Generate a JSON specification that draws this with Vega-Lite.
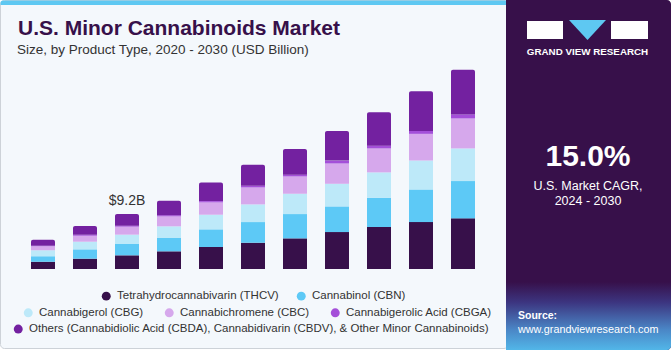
{
  "$schema": "https://vega.github.io/schema/vega-lite/v6.json",
  "width": 462,
  "height": 209,
  "autosize": {"type": "none"},
  "padding": {"left": 22, "top": 60, "right": 187, "bottom": 81},
  "background": "#ffffff",
  "config": {
    "view": {"stroke": null},
    "font": "Liberation Sans",
    "axisX": {"title": null, "labelAngle": 0, "ticks": false, "tickSize": 0, "domain": false, "grid": false, "labelFontSize": 12.5, "labelColor": "#333333", "labelPadding": 3, "labelFont": "Liberation Sans"},
    "legend": {"symbolType": "circle", "symbolSize": 80, "symbolStrokeWidth": 0, "labelFontSize": 11.5, "labelColor": "#333333", "labelFont": "Liberation Sans", "labelOffset": 5, "labelLimit": 1000, "rowPadding": 0}
  },
  "layer": [
    {
      "data": {"values": [{}]},
      "layer": [
        {"mark": {"type": "rect", "x": -21.5, "y": -59.5, "x2": 486, "y2": 288.5, "fill": "#f4f8fc", "stroke": "#cdd2d8", "strokeWidth": 1, "cornerRadius": 4}, "encoding": {}},
        {"mark": {"type": "rect", "x": -21.5, "y": -59.5, "x2": 486, "y2": -55, "fill": "#5ec8f2", "cornerRadiusTopLeft": 3}, "encoding": {}},
        {"mark": {"type": "rect", "x": 484, "y": -60, "x2": 649, "y2": 290, "fill": "#37104a", "cornerRadiusTopRight": 4, "cornerRadiusBottomRight": 4}, "encoding": {}},
        {"mark": {"type": "rect", "x": 484, "y": 222, "x2": 649, "y2": 290, "cornerRadiusBottomRight": 4, "fill": {"gradient": "linear", "x1": 0, "y1": 0, "x2": 0, "y2": 1, "stops": [{"offset": 0, "color": "#37104a"}, {"offset": 0.3, "color": "#3c3580"}, {"offset": 0.7, "color": "#4a86c6"}, {"offset": 1, "color": "#52b6e8"}]}}, "encoding": {}},
        {"mark": {"type": "rect", "x": 505, "y": -39, "x2": 541, "y2": -21, "fill": "#ffffff"}, "encoding": {}},
        {"mark": {"type": "rule", "x": 521, "y": -28, "x2": 541, "y2": -28, "stroke": "#37104a", "strokeWidth": 1.5}, "encoding": {}},
        {"mark": {"type": "point", "shape": "M-1,-0.54L1,-0.54L0,0.54Z", "size": 1369, "filled": true, "opacity": 1, "fill": "#5ec8f2", "strokeWidth": 0, "x": 565.5, "y": -30}, "encoding": {}},
        {"mark": {"type": "rect", "x": 589, "y": -39, "x2": 626, "y2": -21, "fill": "#ffffff"}, "encoding": {}},
        {"mark": {"type": "rule", "x": 611, "y": -31, "x2": 626, "y2": -25, "stroke": "#37104a", "strokeWidth": 1.2}, "encoding": {}},
        {"mark": {"type": "text", "text": "U.S. Minor Cannabinoids Market", "x": -4, "y": -25, "align": "left", "baseline": "alphabetic", "fontSize": 21, "fontWeight": "bold", "color": "#37104a"}, "encoding": {}},
        {"mark": {"type": "text", "text": "Size, by Product Type, 2020 - 2030 (USD Billion)", "x": -5, "y": -6, "align": "left", "baseline": "alphabetic", "fontSize": 13.5, "color": "#333333"}, "encoding": {}}
      ]
    },
    {
      "data": {"values": [
        {"year": "2020", "type": "Tetrahydrocannabivarin (THCV)", "value": 1.23},
        {"year": "2020", "type": "Cannabinol (CBN)", "value": 0.89},
        {"year": "2020", "type": "Cannabigerol (CBG)", "value": 1.0},
        {"year": "2020", "type": "Cannabichromene (CBC)", "value": 0.67},
        {"year": "2020", "type": "Cannabigerolic Acid (CBGA)", "value": 0.11},
        {"year": "2020", "type": "Others (Cannabidiolic Acid (CBDA), Cannabidivarin (CBDV), & Other Minor Cannabinoids)", "value": 1.0},
        {"year": "2021", "type": "Tetrahydrocannabivarin (THCV)", "value": 1.73},
        {"year": "2021", "type": "Cannabinol (CBN)", "value": 1.56},
        {"year": "2021", "type": "Cannabigerol (CBG)", "value": 1.28},
        {"year": "2021", "type": "Cannabichromene (CBC)", "value": 1.0},
        {"year": "2021", "type": "Cannabigerolic Acid (CBGA)", "value": 0.17},
        {"year": "2021", "type": "Others (Cannabidiolic Acid (CBDA), Cannabidivarin (CBDV), & Other Minor Cannabinoids)", "value": 1.45},
        {"year": "2022", "type": "Tetrahydrocannabivarin (THCV)", "value": 2.29},
        {"year": "2022", "type": "Cannabinol (CBN)", "value": 1.9},
        {"year": "2022", "type": "Cannabigerol (CBG)", "value": 1.56},
        {"year": "2022", "type": "Cannabichromene (CBC)", "value": 1.34},
        {"year": "2022", "type": "Cannabigerolic Acid (CBGA)", "value": 0.17},
        {"year": "2022", "type": "Others (Cannabidiolic Acid (CBDA), Cannabidivarin (CBDV), & Other Minor Cannabinoids)", "value": 1.94},
        {"year": "2023", "type": "Tetrahydrocannabivarin (THCV)", "value": 2.96},
        {"year": "2023", "type": "Cannabinol (CBN)", "value": 2.23},
        {"year": "2023", "type": "Cannabigerol (CBG)", "value": 1.95},
        {"year": "2023", "type": "Cannabichromene (CBC)", "value": 1.67},
        {"year": "2023", "type": "Cannabigerolic Acid (CBGA)", "value": 0.2},
        {"year": "2023", "type": "Others (Cannabidiolic Acid (CBDA), Cannabidivarin (CBDV), & Other Minor Cannabinoids)", "value": 2.4},
        {"year": "2024", "type": "Tetrahydrocannabivarin (THCV)", "value": 3.68},
        {"year": "2024", "type": "Cannabinol (CBN)", "value": 2.96},
        {"year": "2024", "type": "Cannabigerol (CBG)", "value": 2.45},
        {"year": "2024", "type": "Cannabichromene (CBC)", "value": 2.06},
        {"year": "2024", "type": "Cannabigerolic Acid (CBGA)", "value": 0.22},
        {"year": "2024", "type": "Others (Cannabidiolic Acid (CBDA), Cannabidivarin (CBDV), & Other Minor Cannabinoids)", "value": 3.1},
        {"year": "2025", "type": "Tetrahydrocannabivarin (THCV)", "value": 4.4},
        {"year": "2025", "type": "Cannabinol (CBN)", "value": 3.46},
        {"year": "2025", "type": "Cannabigerol (CBG)", "value": 2.96},
        {"year": "2025", "type": "Cannabichromene (CBC)", "value": 2.84},
        {"year": "2025", "type": "Cannabigerolic Acid (CBGA)", "value": 0.28},
        {"year": "2025", "type": "Others (Cannabidiolic Acid (CBDA), Cannabidivarin (CBDV), & Other Minor Cannabinoids)", "value": 3.51},
        {"year": "2026", "type": "Tetrahydrocannabivarin (THCV)", "value": 5.13},
        {"year": "2026", "type": "Cannabinol (CBN)", "value": 4.07},
        {"year": "2026", "type": "Cannabigerol (CBG)", "value": 3.4},
        {"year": "2026", "type": "Cannabichromene (CBC)", "value": 2.9},
        {"year": "2026", "type": "Cannabigerolic Acid (CBGA)", "value": 0.3},
        {"year": "2026", "type": "Others (Cannabidiolic Acid (CBDA), Cannabidivarin (CBDV), & Other Minor Cannabinoids)", "value": 4.29},
        {"year": "2027", "type": "Tetrahydrocannabivarin (THCV)", "value": 6.19},
        {"year": "2027", "type": "Cannabinol (CBN)", "value": 4.29},
        {"year": "2027", "type": "Cannabigerol (CBG)", "value": 3.79},
        {"year": "2027", "type": "Cannabichromene (CBC)", "value": 3.4},
        {"year": "2027", "type": "Cannabigerolic Acid (CBGA)", "value": 0.48},
        {"year": "2027", "type": "Others (Cannabidiolic Acid (CBDA), Cannabidivarin (CBDV), & Other Minor Cannabinoids)", "value": 4.96},
        {"year": "2028", "type": "Tetrahydrocannabivarin (THCV)", "value": 7.03},
        {"year": "2028", "type": "Cannabinol (CBN)", "value": 4.91},
        {"year": "2028", "type": "Cannabigerol (CBG)", "value": 4.24},
        {"year": "2028", "type": "Cannabichromene (CBC)", "value": 4.01},
        {"year": "2028", "type": "Cannabigerolic Acid (CBGA)", "value": 0.47},
        {"year": "2028", "type": "Others (Cannabidiolic Acid (CBDA), Cannabidivarin (CBDV), & Other Minor Cannabinoids)", "value": 5.58},
        {"year": "2029", "type": "Tetrahydrocannabivarin (THCV)", "value": 7.86},
        {"year": "2029", "type": "Cannabinol (CBN)", "value": 5.46},
        {"year": "2029", "type": "Cannabigerol (CBG)", "value": 4.85},
        {"year": "2029", "type": "Cannabichromene (CBC)", "value": 4.46},
        {"year": "2029", "type": "Cannabigerolic Acid (CBGA)", "value": 0.5},
        {"year": "2029", "type": "Others (Cannabidiolic Acid (CBDA), Cannabidivarin (CBDV), & Other Minor Cannabinoids)", "value": 6.64},
        {"year": "2030", "type": "Tetrahydrocannabivarin (THCV)", "value": 8.48},
        {"year": "2030", "type": "Cannabinol (CBN)", "value": 6.25},
        {"year": "2030", "type": "Cannabigerol (CBG)", "value": 5.46},
        {"year": "2030", "type": "Cannabichromene (CBC)", "value": 5.02},
        {"year": "2030", "type": "Cannabigerolic Acid (CBGA)", "value": 0.67},
        {"year": "2030", "type": "Others (Cannabidiolic Acid (CBDA), Cannabidivarin (CBDV), & Other Minor Cannabinoids)", "value": 7.47}
      ]},
      "transform": [
        {"calculate": "indexof(['Tetrahydrocannabivarin (THCV)', 'Cannabinol (CBN)', 'Cannabigerol (CBG)', 'Cannabichromene (CBC)', 'Cannabigerolic Acid (CBGA)', 'Others (Cannabidiolic Acid (CBDA), Cannabidivarin (CBDV), & Other Minor Cannabinoids)'], datum.type)", "as": "order"},
        {"stack": "value", "groupby": ["year"], "sort": [{"field": "order", "order": "ascending"}], "as": ["y0", "y1"]}
      ],
      "layer": [
        {
          "transform": [{"filter": {"field": "type", "oneOf": ["Tetrahydrocannabivarin (THCV)", "Cannabinol (CBN)"]}}],
          "mark": {"type": "bar"},
          "encoding": {
            "x": {"field": "year", "type": "ordinal", "scale": {"paddingInner": 0.4286, "paddingOuter": 0.2143}},
            "y": {"field": "y1", "type": "quantitative", "scale": {"domain": [0, 34.95]}, "axis": null},
            "y2": {"field": "y0"},
            "color": {"field": "type", "type": "nominal", "scale": {"domain": ["Tetrahydrocannabivarin (THCV)", "Cannabinol (CBN)"], "range": ["#37104a", "#5dc9f6"]}, "legend": {"title": null, "orient": "none", "direction": "horizontal", "legendX": 78.5, "legendY": 230, "columnPadding": 16}}
          }
        },
        {
          "transform": [{"filter": {"field": "type", "oneOf": ["Cannabigerol (CBG)", "Cannabichromene (CBC)", "Cannabigerolic Acid (CBGA)"]}}],
          "mark": {"type": "bar"},
          "encoding": {
            "x": {"field": "year", "type": "ordinal"},
            "y": {"field": "y1", "type": "quantitative", "axis": null},
            "y2": {"field": "y0"},
            "color": {"field": "type", "type": "nominal", "scale": {"domain": ["Cannabigerol (CBG)", "Cannabichromene (CBC)", "Cannabigerolic Acid (CBGA)"], "range": ["#bde9f9", "#d6a8ec", "#a44fd9"]}, "legend": {"title": null, "orient": "none", "direction": "horizontal", "legendX": 0.5, "legendY": 246.7, "columnPadding": 20}}
          }
        },
        {
          "transform": [{"filter": {"field": "type", "oneOf": ["Others (Cannabidiolic Acid (CBDA), Cannabidivarin (CBDV), & Other Minor Cannabinoids)"]}}],
          "mark": {"type": "bar", "cornerRadiusTopLeft": 2, "cornerRadiusTopRight": 2},
          "encoding": {
            "x": {"field": "year", "type": "ordinal"},
            "y": {"field": "y1", "type": "quantitative", "axis": null},
            "y2": {"field": "y0"},
            "color": {"field": "type", "type": "nominal", "scale": {"domain": ["Others (Cannabidiolic Acid (CBDA), Cannabidivarin (CBDV), & Other Minor Cannabinoids)"], "range": ["#7321a0"]}, "legend": {"title": null, "orient": "none", "direction": "horizontal", "legendX": -9.5, "legendY": 263.3}}
          }
        }
      ],
      "resolve": {"scale": {"color": "independent"}}
    },
    {
      "data": {"values": [{"year": "2022", "total": 9.2, "label": "$9.2B"}]},
      "mark": {"type": "text", "baseline": "alphabetic", "dy": -9, "fontSize": 14, "color": "#333333"},
      "encoding": {
        "x": {"field": "year", "type": "ordinal"},
        "y": {"field": "total", "type": "quantitative", "axis": null},
        "text": {"field": "label"}
      }
    },
    {
      "data": {"values": [{}]},
      "layer": [
        {"mark": {"type": "text", "text": "GRAND VIEW RESEARCH", "x": 565.5, "y": -5, "align": "center", "baseline": "alphabetic", "fontSize": 9.8, "fontWeight": "bold", "color": "#ffffff"}, "encoding": {}},
        {"mark": {"type": "text", "text": "15.0%", "x": 566, "y": 106, "align": "center", "baseline": "alphabetic", "fontSize": 30, "fontWeight": "bold", "color": "#ffffff"}, "encoding": {}},
        {"mark": {"type": "rule", "x": 512, "y": 113, "x2": 619, "y2": 113, "stroke": "#d9d3e0", "strokeWidth": 1}, "encoding": {}},
        {"mark": {"type": "text", "text": "U.S. Market CAGR,", "x": 566, "y": 130, "align": "center", "baseline": "alphabetic", "fontSize": 12.5, "color": "#ffffff"}, "encoding": {}},
        {"mark": {"type": "text", "text": "2024 - 2030", "x": 566, "y": 145, "align": "center", "baseline": "alphabetic", "fontSize": 12.5, "color": "#ffffff"}, "encoding": {}},
        {"mark": {"type": "text", "text": "Source:", "x": 496, "y": 259, "align": "left", "baseline": "alphabetic", "fontSize": 10.5, "fontWeight": "bold", "color": "#ffffff"}, "encoding": {}},
        {"mark": {"type": "text", "text": "www.grandviewresearch.com", "x": 496, "y": 273, "align": "left", "baseline": "alphabetic", "fontSize": 10.8, "color": "#ffffff"}, "encoding": {}}
      ]
    }
  ]
}
